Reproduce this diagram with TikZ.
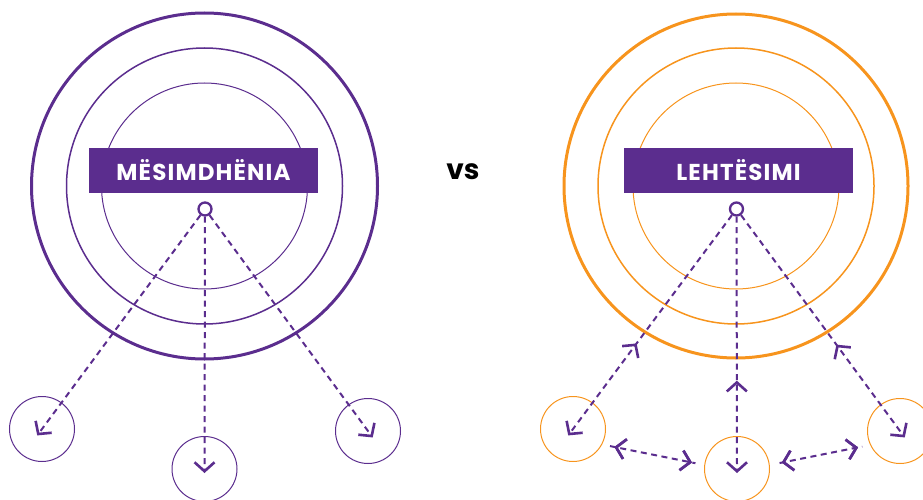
\documentclass[tikz,border=0pt]{standalone}
\usepackage{fontspec}
\setmainfont{Poppins}
\usetikzlibrary{arrows.meta,decorations.markings}
\definecolor{purp}{HTML}{5B2D8E}
\definecolor{orng}{HTML}{F7941D}
\begin{document}
\begin{tikzpicture}[x=1pt,y=-1pt,
    title/.style={fill=purp,text=white,minimum width=229pt,minimum height=45pt,
      inner sep=0pt,font=\fontsize{23}{23}\selectfont\bfseries\addfontfeature{LetterSpace=5}},
    hub/.style={circle,draw=purp,fill=white,line width=2.3pt,minimum size=13pt,inner sep=0pt},
    spot/.style={circle,draw=#1,line width=1pt,minimum size=65pt,inner sep=0pt},
    barb/.tip={Straight Barb[length=9pt,width=20pt,line width=2.6pt]},
    flow/.style={purp,line width=2pt,dash pattern=on 6pt off 4.5pt},
    tip/.style={flow,-barb,shorten >=#1},
    back/.style={postaction={decorate},decoration={markings,
      mark=at position #1 with {\arrowreversed{barb}}}},
    fore/.style={postaction={decorate},decoration={markings,
      mark=at position #1 with {\arrow{barb}}}}]
\useasboundingbox (0,0) rectangle (923,500);

\draw[purp,line width=3pt] (204.5,186) circle[radius=173pt];
\draw[purp,line width=1.5pt] (204.5,186) circle[radius=138pt];
\draw[purp,line width=1pt] (204.5,186) circle[radius=103pt];
\draw[orng,line width=3pt] (736,186) circle[radius=172pt];
\draw[orng,line width=1.5pt] (736,186) circle[radius=138pt];
\draw[orng,line width=1pt] (736,186) circle[radius=103pt];

\node[title] (teach) at (203.5,170.5) {MËSIMDHËNIA};
\node[title] (facil) at (738.5,170.5) {LEHTËSIMI};
\node[font=\fontsize{28}{28}\selectfont\bfseries] (vs) at (463,172) {vs};

\node[hub] (h1) at (205,209) {};
\node[hub] (h2) at (736.5,209) {};

\node[spot=purp] (a1) at (42,429) {};
\node[spot=purp] (a2) at (204.5,469) {};
\node[spot=purp] (a3) at (368,431) {};
\node[spot=orng] (b1) at (573,429) {};
\node[spot=orng] (b2) at (737,469) {};
\node[spot=orng] (b3) at (900,431) {};

\draw[tip=-8pt] (h1) -- (a1.center);
\draw[tip=-4pt] (h1) -- (a2.center);
\draw[tip=-8pt] (h1) -- (a3.center);

\draw[tip=-8pt,back=0.6] (h2) -- (b1.center);
\draw[tip=-4pt,back=0.65] (h2) -- (b2.center);
\draw[tip=-8pt,back=0.6] (h2) -- (b3.center);

\draw[flow,back=0.12,fore=0.88,shorten <=8pt,shorten >=9pt] (b1.-28) -- (b2.173);
\draw[flow,back=0.12,fore=0.88,shorten <=10pt,shorten >=8pt] (b2.7) -- (b3.-155);
\end{tikzpicture}
\end{document}
